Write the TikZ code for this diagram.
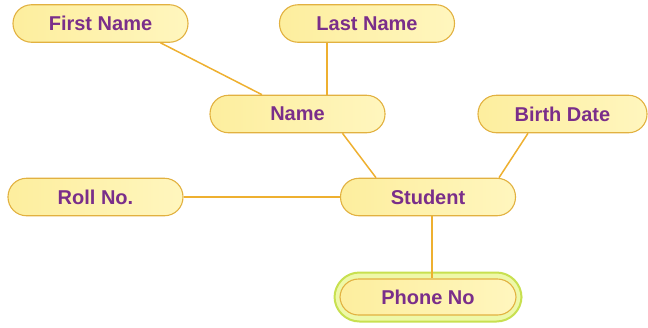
\documentclass[tikz,border=0pt]{standalone}
\usepackage{fontspec}
\setmainfont{Liberation Sans}
\definecolor{boxfill}{HTML}{FFF6BE}
\definecolor{boxfillL}{HTML}{FDEE9E}
\definecolor{boxdraw}{HTML}{E2B140}
\definecolor{linkc}{HTML}{EEB030}
\definecolor{txt}{HTML}{7A2E8A}
\definecolor{limedraw}{HTML}{C8E050}
\definecolor{limefill}{HTML}{EEF8A8}
\begin{document}
\begin{tikzpicture}[x=1pt,y=-1pt,
  attr/.style={draw=boxdraw, line width=1.1pt, left color=boxfillL, right color=boxfill,
    shading angle=90, rounded corners=18.5pt, minimum width=175pt, minimum height=37.5pt,
    inner sep=0pt, text=txt, font=\fontsize{20}{22}\selectfont\bfseries},
  outerbox/.style={draw=limedraw, line width=2pt, fill=limefill, rounded corners=25pt,
    minimum width=187pt, minimum height=49pt, inner sep=0pt},
  link/.style={draw=linkc, line width=1.5pt}]
\useasboundingbox (0,0) rectangle (648,327);
\node[outerbox] (phoneout) at (428,297) {};
\node[attr] (fn) at (100.5,23.5) {First Name};
\node[attr] (ln) at (367,23.5) {Last Name};
\node[attr] (name) at (297.5,114) {Name};
\node[attr, minimum width=169pt] (bd) at (562.5,114) {Birth Date};
\node[attr] (rn) at (95.5,197) {Roll No.};
\node[attr] (st) at (428,197) {Student};
\node[attr, minimum width=176pt, minimum height=36pt] (ph) at (428,297) {Phone No};
\draw[link] ([xshift=60pt]fn.south) -- ([xshift=-35.5pt]name.north);
\draw[link] ([xshift=-40pt]ln.south) -- ([xshift=-40pt]ln.south |- name.north);
\draw[link] ([xshift=45pt]name.south) -- ([xshift=-52pt]st.north);
\draw[link] ([xshift=-34.5pt]bd.south) -- ([xshift=71pt]st.north);
\draw[link] (rn.east) -- (st.west);
\draw[link] ([xshift=4pt]st.south) -- ([xshift=4pt]ph.north);
\end{tikzpicture}
\end{document}
